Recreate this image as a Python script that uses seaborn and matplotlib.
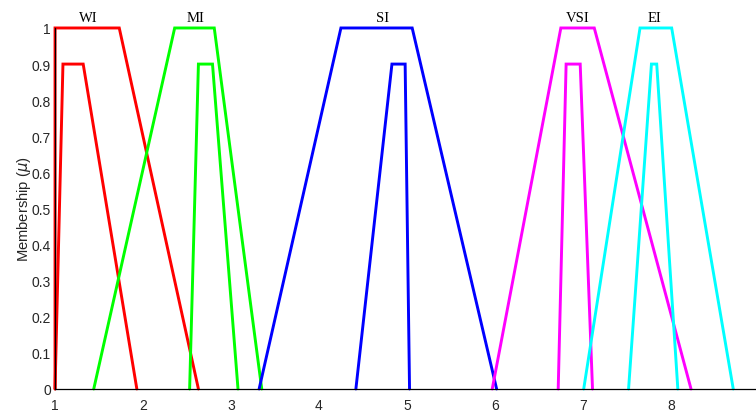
import matplotlib
matplotlib.use("Agg")
import matplotlib.pyplot as plt
import seaborn as sns
import pandas as pd

# Category labels and colours
categories = ["WI", "MI", "SI", "VSI", "EI"]
colors = ["#ff0000", "#00ff00", "#0000ff", "#ff00ff", "#00ffff"]

# Upper (membership height 1.0) trapezoids: a, b, c, d
upper_WI = [1.00, 1.00, 1.73, 2.63]
upper_MI = [1.44, 2.36, 2.81, 3.35]
upper_SI = [3.32, 4.25, 5.06, 6.02]
upper_VSI = [5.97, 6.75, 7.13, 8.23]
upper_EI = [7.01, 7.65, 8.01, 8.71]

# Lower (membership height 0.9) trapezoids: a, b, c, d
lower_WI = [1.00, 1.09, 1.32, 1.93]
lower_MI = [2.53, 2.63, 2.79, 3.08]
lower_SI = [4.42, 4.83, 4.98, 5.03]
lower_VSI = [6.72, 6.81, 6.97, 7.11]
lower_EI = [7.52, 7.78, 7.84, 8.08]

upper_height = 1.0
lower_height = 0.9

x_ticks = [1, 2, 3, 4, 5, 6, 7, 8]
y_ticks = [0, 0.1, 0.2, 0.3, 0.4, 0.5, 0.6, 0.7, 0.8, 0.9, 1]
y_tick_labels = ["0", "0.1", "0.2", "0.3", "0.4", "0.5", "0.6", "0.7", "0.8", "0.9", "1"]

uppers = [upper_WI, upper_MI, upper_SI, upper_VSI, upper_EI]
lowers = [lower_WI, lower_MI, lower_SI, lower_VSI, lower_EI]

rows = []
for cat, up, lo in zip(categories, uppers, lowers):
    for kind, trap, h in (("upper", up, upper_height), ("lower", lo, lower_height)):
        ys = [0, h, h, 0]
        for i, (xv, yv) in enumerate(zip(trap, ys)):
            rows.append({"cat": cat, "kind": kind, "unit": f"{cat}-{kind}",
                         "order": i, "x": xv, "y": yv})
df = pd.DataFrame(rows)

sns.set_style("white")
fig = plt.figure(figsize=(7.56, 4.14), dpi=100)
ax = fig.add_axes([0.0728, 0.058, 0.9262, 0.872])

sns.lineplot(data=df, x="x", y="y", hue="cat", units="unit", estimator=None,
             sort=False, palette=dict(zip(categories, colors)),
             linewidth=2.1, legend=False, ax=ax)
for ln in ax.get_lines():
    ln.set_clip_on(False)
    ln.set_solid_joinstyle("miter")

ax.set_xlim(1, 8.96)
ax.set_ylim(0, 1)
ax.set_xticks(x_ticks)
ax.set_xticklabels([str(t) for t in x_ticks])
ax.set_yticks(y_ticks)
ax.set_yticklabels(y_tick_labels)
ax.tick_params(direction="in", length=4, width=0.8, labelsize=10,
               labelcolor="#262626", color="black")
ax.tick_params(axis="y", pad=3)
ax.tick_params(axis="x", pad=6.5)
for s in ("top", "right"):
    ax.spines[s].set_visible(False)
for s in ("left", "bottom"):
    ax.spines[s].set_color("black")
    ax.spines[s].set_linewidth(0.9)
ax.set_xlabel("")
ax.set_ylabel("Membership ($\\mu$)", fontsize=10.6, color="#262626",
              family="Liberation Sans", labelpad=-1)
for lbl in ax.get_xticklabels() + ax.get_yticklabels():
    lbl.set_family("Liberation Sans")

label_x = [1.375, 2.60, 4.72, 6.94, 7.81]
for cat, lx in zip(categories, label_x):
    ax.text(lx, 1.012, cat, ha="center", va="bottom", fontsize=10.5,
            family="Liberation Serif", color="black")

fig.savefig("out.png", dpi=100)
